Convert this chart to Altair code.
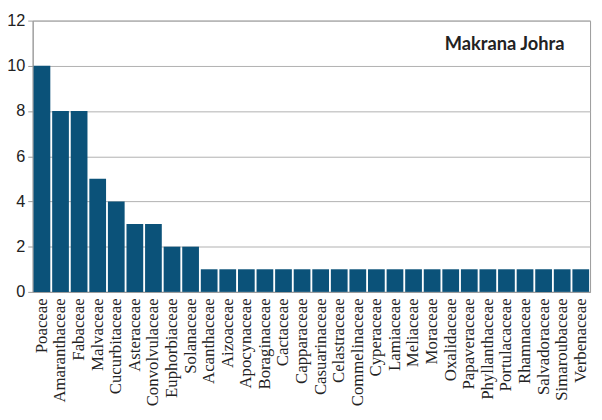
import altair as alt
import pandas as pd

families = ["Poaceae", "Amaranthaceae", "Fabaceae", "Malvaceae", "Cucurbitaceae",
            "Asteraceae", "Convolvulaceae", "Euphorbiaceae", "Solanaceae",
            "Acanthaceae", "Aizoaceae", "Apocynaceae", "Boraginaceae", "Cactaceae",
            "Capparaceae", "Casuarinaceae", "Celastraceae", "Commelinaceae",
            "Cyperaceae", "Lamiaceae", "Meliaceae", "Moraceae", "Oxalidaceae",
            "Papaveraceae", "Phyllanthaceae", "Portulacaceae", "Rhamnaceae",
            "Salvadoraceae", "Simaroubaceae", "Verbenaceae"]
counts = [10, 8, 8, 5, 4, 3, 3, 2, 2] + [1] * 21
y_ticks = [0, 2, 4, 6, 8, 10, 12]
title_text = "Makrana Johra"

df = pd.DataFrame({"family": families, "count": counts})

W, H = 565, 275

bars = alt.Chart(df).mark_bar(color="#0b5279").encode(
    x=alt.X("family:N", sort=families, title=None,
            scale=alt.Scale(paddingInner=0.1, paddingOuter=0.05),
            axis=alt.Axis(labelAngle=-90, labelAlign="right", labelBaseline="middle",
                          labelFont="Liberation Serif", labelFontSize=17,
                          labelColor="#222222", ticks=False, labelPadding=6,
                          domainColor="#9a9a9a", labelOverlap=False)),
    y=alt.Y("count:Q", title=None,
            scale=alt.Scale(domain=[0, 12], nice=False),
            axis=alt.Axis(values=y_ticks, labelFont="Liberation Sans", labelFontSize=16.5,
                          labelColor="#222222", tickColor="#9a9a9a", tickSize=5,
                          gridColor="#b0b0b0", domainColor="#9a9a9a", labelPadding=3)),
)

label = alt.Chart(pd.DataFrame({"t": [title_text]})).mark_text(
    align="right", baseline="middle", font="Lato", fontWeight="bold",
    fontSize=18.5, color="#222222"
).encode(text="t:N", x=alt.value(539), y=alt.value(24))

chart = (bars + label).properties(
    width=W, height=H,
    autosize=alt.AutoSizeParams(type="none"),
    padding={"left": 25, "top": 10, "right": 4, "bottom": 120},
).configure_view(stroke="#9a9a9a", strokeWidth=1)

chart.save("out.html", embed_options={"renderer": "svg", "actions": False})
